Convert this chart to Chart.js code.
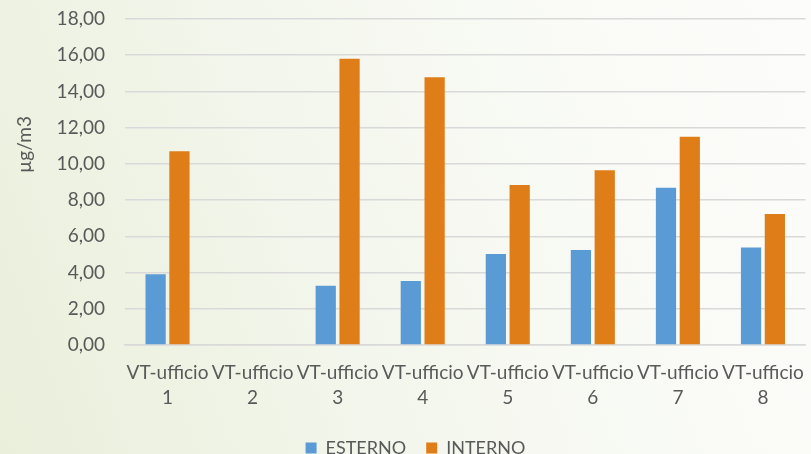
<!DOCTYPE html>
<html>
<head>
<meta charset="utf-8">
<script src="https://cdn.jsdelivr.net/npm/chart.js@4/dist/chart.umd.min.js"></script>
<style>
  html, body { margin: 0; padding: 0; }
  body {
    width: 811px; height: 454px; overflow: hidden;
    background: linear-gradient(70deg, #e9efdb 0%, #f3f6ec 40%, #fafbf7 75%, #fcfcfa 100%);
  }
  #wrap { position: relative; width: 811px; height: 454px; }
</style>
</head>
<body>
<div id="wrap"><canvas id="c" width="811" height="454"></canvas></div>
<script>
// Office sampling sites and measured concentrations (µg/m3)
const categories = [
  ['VT-ufficio', '1'], ['VT-ufficio', '2'], ['VT-ufficio', '3'], ['VT-ufficio', '4'],
  ['VT-ufficio', '5'], ['VT-ufficio', '6'], ['VT-ufficio', '7'], ['VT-ufficio', '8']
];
const seriesNames = ['ESTERNO', 'INTERNO'];
const esterno = [3.91, null, 3.27, 3.54, 5.02, 5.24, 8.68, 5.39];
const interno = [10.70, null, 15.80, 14.78, 8.84, 9.65, 11.50, 7.24];
const yTicks = [0, 2, 4, 6, 8, 10, 12, 14, 16, 18];
const yTitle = 'µg/m3';

const textColor = '#595959';
const fontFamily = 'Lato, "Open Sans", "DejaVu Sans", sans-serif';

// Rotated unit label on the left side
const yTitlePlugin = {
  id: 'yTitle',
  afterDraw(chart) {
    const { ctx, chartArea } = chart;
    ctx.save();
    ctx.fillStyle = textColor;
    ctx.font = '19px ' + fontFamily;
    ctx.textAlign = 'center';
    ctx.textBaseline = 'middle';
    ctx.translate(25, chartArea.top + (chartArea.bottom - chartArea.top) * 0.385);
    ctx.rotate(-Math.PI / 2);
    ctx.fillText(yTitle, 0, 0);
    ctx.restore();
  }
};

new Chart(document.getElementById('c'), {
  type: 'bar',
  data: {
    labels: categories,
    datasets: [
      { label: seriesNames[0], data: esterno, backgroundColor: '#5B9BD5' },
      { label: seriesNames[1], data: interno, backgroundColor: '#DF7E19' }
    ]
  },
  plugins: [yTitlePlugin],
  options: {
    responsive: false,
    animation: false,
    layout: { padding: { left: 22, right: 2, top: 19, bottom: -13 } },
    datasets: { bar: { categoryPercentage: 0.56, barPercentage: 0.85 } },
    plugins: {
      tooltip: { enabled: false },
      legend: {
        position: 'bottom',
        labels: {
          color: textColor,
          font: { family: fontFamily, size: 18 },
          boxWidth: 11, boxHeight: 11,
          padding: 20
        }
      }
    },
    scales: {
      x: {
        grid: { display: false },
        border: { color: '#d9d9d9', width: 1.5 },
        afterFit(scale) { scale.height = 74; },
        ticks: {
          color: textColor,
          font: { family: fontFamily, size: 19, lineHeight: 1.34 },
          maxRotation: 0, autoSkip: false, padding: 7
        }
      },
      y: {
        min: 0, max: 18,
        afterFit(scale) {
          scale.width = 103;
          scale.paddingTop = 0;
          scale.paddingBottom = 0;
        },
        afterBuildTicks(scale) { scale.ticks = yTicks.map(v => ({ value: v })); },
        grid: { color: '#d9d9d9', lineWidth: 1.5, drawTicks: false },
        border: { display: false },
        ticks: {
          color: textColor,
          font: { family: fontFamily, size: 19 },
          padding: 20,
          callback: v => v.toFixed(2).replace('.', ',')
        }
      }
    }
  }
});
</script>
</body>
</html>
